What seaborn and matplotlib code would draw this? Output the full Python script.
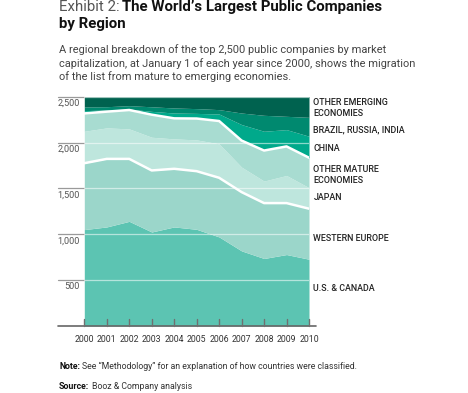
import matplotlib
matplotlib.use("Agg")
import matplotlib.pyplot as plt
import seaborn as sns
import numpy as np
import pandas as pd

# top 2,500 public companies by region, Jan 1 of each year
years = [2000, 2001, 2002, 2003, 2004, 2005, 2006, 2007, 2008, 2009, 2010]
us_canada = [1051, 1080, 1141, 1025, 1080, 1054, 971, 819, 736, 779, 728]
western_europe = [724, 742, 681, 671, 634, 634, 645, 641, 604, 561, 551]
japan = [348, 338, 327, 362, 326, 341, 370, 272, 240, 301, 229]
other_mature = [195, 177, 206, 246, 224, 233, 249, 290, 333, 317, 327]
china = [30, 18, 10, 36, 58, 56, 76, 174, 210, 183, 234]
brazil_russia_india = [40, 36, 37, 50, 55, 52, 48, 126, 174, 145, 206]
other_emerging = [112, 109, 98, 110, 123, 130, 141, 178, 203, 214, 225]

region_labels = ["U.S. & CANADA", "WESTERN EUROPE", "JAPAN", "OTHER MATURE\nECONOMIES",
                 "CHINA", "BRAZIL, RUSSIA, INDIA", "OTHER EMERGING\nECONOMIES"]
y_ticks = [500, 1000, 1500, 2000, 2500]

colors = ["#5cc4b2", "#9bd6ca", "#bee6dd", "#a8dcd1", "#00a98b", "#00896f", "#00624f"]
label_y = [414, 949, 1396, 1647, 1930, 2137, 2377]

sns.set_theme(style="white")
plt.rcParams["font.family"] = ["Roboto", "DejaVu Sans"]

fig = plt.figure(figsize=(4.68, 3.93), dpi=100)
ax = fig.add_axes([84.3 / 468, 67 / 393, 224.7 / 468, 229.3 / 393])

series = [us_canada, western_europe, japan, other_mature, china,
          brazil_russia_india, other_emerging]
ax.stackplot(years, *series, colors=colors, linewidth=0)

# white boundary lines: top of Western Europe and top of mature economies
cum = np.cumsum(np.array(series), axis=0)
df = pd.DataFrame({"year": years, "we_top": cum[1], "mature_top": cum[3]})
sns.lineplot(data=df, x="year", y="we_top", ax=ax, color="white", linewidth=1.8)
sns.lineplot(data=df, x="year", y="mature_top", ax=ax, color="white", linewidth=1.8)

ax.set_xlim(years[0], years[-1])
ax.set_ylim(0, 2500)
for s in ax.spines.values():
    s.set_visible(False)
ax.set_xlabel("")
ax.set_ylabel("")
ax.set_yticks([])
ax.set_xticks([])

# gridlines: grey in the margin, faint white over the areas
ytr = ax.get_yaxis_transform()
for v in y_ticks:
    ax.plot([-0.117, 0], [v, v], transform=ytr, color="#9a9a9a", lw=0.9, clip_on=False)
    ax.plot([0, 1], [v, v], transform=ytr, color="white", lw=0.9, alpha=0.55)
    ax.text(-0.02, v - 25, f"{v:,}", transform=ytr, ha="right", va="top",
            fontsize=6.6, color="#555555")

# baseline and year ticks
xtr = ax.get_xaxis_transform()
ax.plot([-0.117, 1.03], [0, 0], transform=ax.transAxes, color="#666666", lw=1.2,
        clip_on=False)
for yr in years:
    ax.plot([yr, yr], [0, 0.03], transform=xtr, color="#707070", lw=1, clip_on=False)
    ax.text(yr, -0.04, str(yr), transform=xtr, ha="center", va="top",
            fontsize=6.3, color="#333333")

# region labels on the right
for lab, yv in zip(region_labels, label_y):
    ax.text(1.02, yv, lab, transform=ytr, ha="left", va="center", fontsize=6.4,
            color="#222222", fontweight="medium", linespacing=1.25)

renderer = fig.canvas.get_renderer()


def two_part(x_px, y_px, first, second, size, c1, c2, w1, w2):
    t = fig.text(x_px / 468, 1 - y_px / 393, first, fontsize=size, color=c1,
                 fontweight=w1, va="baseline", ha="left")
    x1 = t.get_window_extent(renderer).x1
    fig.text(x1 / 468 + 2.5 / 468, 1 - y_px / 393, second, fontsize=size, color=c2,
             fontweight=w2, va="baseline", ha="left")


# title and subtitle
two_part(59, 11, "Exhibit 2:", "The World\u2019s Largest Public Companies", 10.8,
         "#555555", "#111111", "normal", "bold")
fig.text(59 / 468, 1 - 28 / 393, "by Region", fontsize=10.8, fontweight="bold",
         color="#111111", va="baseline", ha="left")
subtitle = ["A regional breakdown of the top 2,500 public companies by market",
            "capitalization, at January 1 of each year since 2000, shows the migration",
            "of the list from mature to emerging economies."]
for i, line in enumerate(subtitle):
    fig.text(59 / 468, 1 - (53.3 + 13.4 * i) / 393, line, fontsize=7.9,
             color="#444444", va="baseline", ha="left")

# footer
two_part(59, 369, "Note:",
         "See \u201cMethodology\u201d for an explanation of how countries were classified.",
         6.3, "#111111", "#333333", "bold", "normal")
two_part(59, 389, "Source:", "Booz & Company analysis", 6.3,
         "#111111", "#333333", "bold", "normal")

fig.savefig("out.png", dpi=100, facecolor="white")
